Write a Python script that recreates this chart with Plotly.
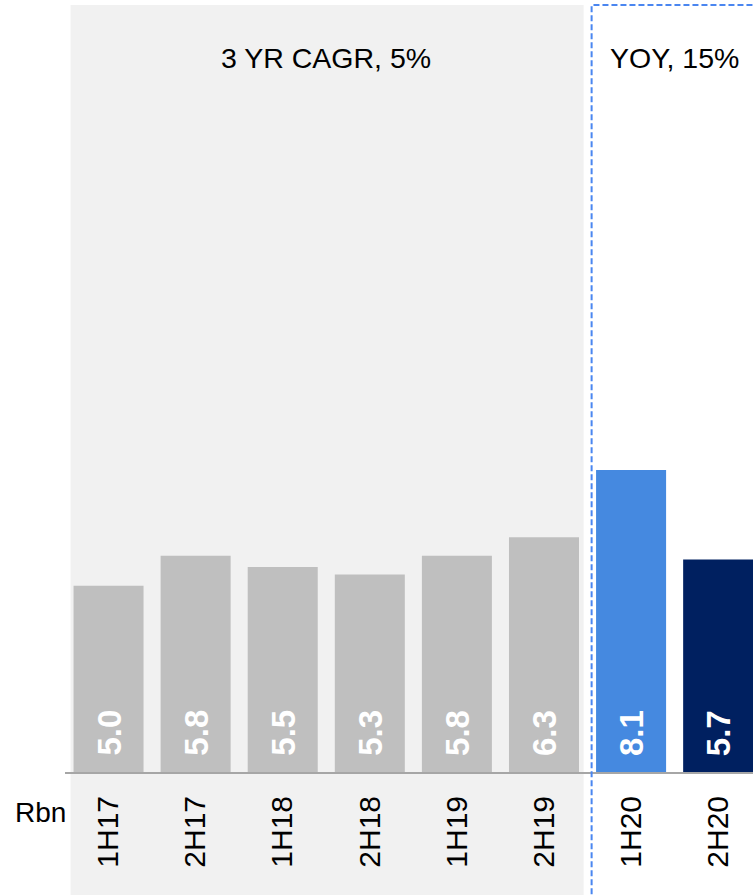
import plotly.graph_objects as go

categories = ["1H17", "2H17", "1H18", "2H18", "1H19", "2H19", "1H20", "2H20"]
values = [5.0, 5.8, 5.5, 5.3, 5.8, 6.3, 8.1, 5.7]
colors = ["#bfbfbf"] * 6 + ["#4589e0", "#002060"]
cagr_label = "3 YR CAGR, 5%"
yoy_label = "YOY, 15%"
unit_label = "Rbn"

FONT = "Liberation Sans, Arial, sans-serif"

fig = go.Figure(go.Bar(
    x=categories, y=values,
    marker=dict(color=colors, line=dict(width=0)),
    hoverinfo="x+y",
))

value_annotations = [
    dict(text=f"<b>{v:.1f}</b>", x=c, y=0, xref="x", yref="y", showarrow=False,
         textangle=-90, xanchor="center", yanchor="bottom", yshift=14,
         font=dict(size=33, color="white", family=FONT))
    for c, v in zip(categories, values)
]

fig.update_layout(
    width=753, height=895,
    margin=dict(l=65, r=0, t=5, b=122.5),
    plot_bgcolor="rgba(0,0,0,0)", paper_bgcolor="white",
    bargap=0.196, showlegend=False,
    font=dict(family=FONT, size=28, color="black"),
    xaxis=dict(range=[-0.5, 7.4], showline=True, linecolor="#a6a6a6", linewidth=2,
               tickangle=-90, ticks="", showgrid=False, zeroline=False,
               tickfont=dict(size=30, color="black", family=FONT), ticklabelstandoff=10),
    yaxis=dict(range=[0, 20.58], visible=False, showgrid=False, zeroline=False),
    shapes=[
        dict(type="rect", xref="x", yref="paper", x0=-0.436, x1=5.455, y0=-0.2, y1=1.0,
             fillcolor="#f1f1f1", line=dict(width=0), layer="below"),
        dict(type="rect", xref="x", yref="paper", x0=5.547, x1=7.8, y0=-0.2, y1=1.0,
             fillcolor="rgba(0,0,0,0)", line=dict(color="#4a86f0", width=2, dash="6px,3px"),
             layer="above"),
    ],
    annotations=value_annotations + [
        dict(text=cagr_label, xref="x", yref="paper", x=2.5, y=0.931, showarrow=False,
             xanchor="center", yanchor="middle",
             font=dict(size=28.5, color="black", family=FONT)),
        dict(text=yoy_label, xref="x", yref="paper", x=6.5, y=0.931, showarrow=False,
             xanchor="center", yanchor="middle",
             font=dict(size=28.5, color="black", family=FONT)),
        dict(text=unit_label, xref="paper", yref="paper", x=-0.035, y=-0.053, showarrow=False,
             xanchor="center", yanchor="middle",
             font=dict(size=28, color="black", family=FONT)),
    ],
)

fig.write_html("out.html")
